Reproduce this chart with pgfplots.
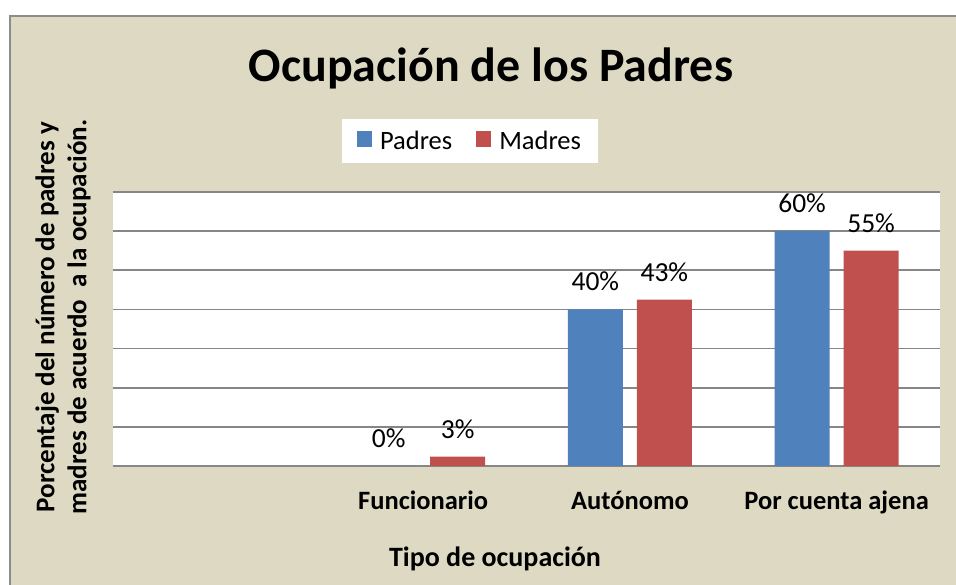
\documentclass[border=0pt]{standalone}
\usepackage{pgfplots}
\pgfplotsset{compat=1.18}
\usepackage{fontspec}
\setmainfont{Carlito}
\definecolor{bg}{HTML}{DDD9C3}
\definecolor{framec}{HTML}{8C8C8C}
\definecolor{gridc}{HTML}{868686}
\definecolor{padres}{HTML}{4F81BD}
\definecolor{madres}{HTML}{C0504D}
\begin{document}
\begin{tikzpicture}[x=1pt,y=1pt]
\useasboundingbox (0,0) rectangle (956,585);
\fill[white] (0,0) rectangle (956,585);
\draw[framec, fill=bg, line width=2pt] (9.5,-5) rectangle (965,569);
\begin{axis}[
  at={(113pt,119pt)}, anchor=south west,
  scale only axis, width=827pt, height=274pt,
  xmin=-0.5, xmax=3.5, ymin=0, ymax=70,
  ybar=14pt, bar width=55pt,
  axis background/.style={fill=white},
  axis line style={draw=none},
  ytick={0,10,...,70}, yticklabels={},
  ymajorgrids, grid style={gridc, line width=1.8pt},
  major tick length=0pt,
  xtick={1,2,3}, xticklabels={Funcionario,Autónomo,Por cuenta ajena},
  xticklabel style={font=\fontsize{26.5}{30}\selectfont\bfseries, anchor=base, inner sep=0pt, yshift=-44pt},
  point meta=explicit symbolic,
  nodes near coords,
  nodes near coords style={font=\fontsize{27.5}{30}\selectfont, anchor=base, inner sep=0pt, yshift=18.5pt, text=black},
  legend style={at={(0.4317,1.186)}, anchor=center, legend columns=2, draw=none, fill=white,
    font=\fontsize{26.5}{30}\selectfont, inner xsep=15pt, inner ysep=10pt,
    /tikz/every odd column/.append style={column sep=6pt},
    /tikz/every even column/.append style={column sep=22pt}},
  legend image code/.code={\path[#1] (0pt,-6pt) rectangle (15pt,10pt);},
]
\addplot[fill=padres, draw=none] coordinates {(1,0) [0\%] (2,40) [40\%] (3,60) [60\%]};
\addplot[fill=madres, draw=none] coordinates {(1,2.4) [3\%] (2,42.5) [43\%] (3,55) [55\%]};
\legend{Padres, Madres}
\end{axis}
\node[anchor=base, font=\fontsize{48}{58}\selectfont\bfseries] at (491,503) {Ocupación de los Padres};
\node[anchor=base, font=\fontsize{28}{30}\selectfont\bfseries] at (495,18) {Tipo de ocupación};
\node[rotate=90, align=center, font=\fontsize{27}{32}\selectfont\bfseries] at (63,268) {Porcentaje del número de padres y\\madres de acuerdo \ a la ocupación.};
\end{tikzpicture}
\end{document}
